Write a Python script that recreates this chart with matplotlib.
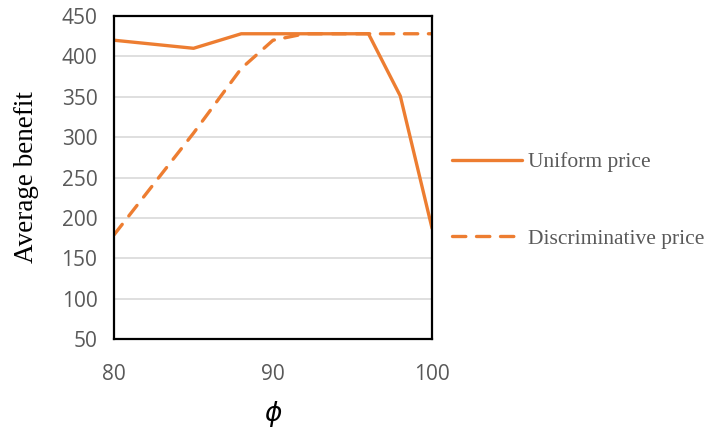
import matplotlib
matplotlib.use("Agg")
import matplotlib.pyplot as plt

phi = [80, 85, 88, 90, 92, 96, 98, 100]
uniform = [420, 410, 428, 428, 428, 428, 351, 187]
discriminative = [179, 305, 385, 420, 428, 428, 428, 428]
series_names = ["Uniform price", "Discriminative price"]
x_ticks = [80, 90, 100]
y_ticks = [50, 100, 150, 200, 250, 300, 350, 400, 450]

orange = "#ED7D31"
gray = "#595959"

fig = plt.figure(figsize=(7.06, 4.30), dpi=100)
ax = fig.add_axes([0.1615, 0.2116, 0.4505, 0.7512])

ax.plot(phi, uniform, color=orange, lw=2.4, solid_joinstyle="round",
        solid_capstyle="round", label=series_names[0])
ax.plot(phi, discriminative, color=orange, lw=2.4, linestyle=(0, (4.0, 3.2)),
        dash_capstyle="round", label=series_names[1])

ax.set_xlim(80, 100)
ax.set_ylim(50, 450)
ax.set_xticks(x_ticks)
ax.set_yticks(y_ticks)
ax.yaxis.grid(True, color="#d9d9d9", lw=1.2)
ax.set_axisbelow(True)
ax.tick_params(length=0, labelsize=15, colors=gray, pad=12)
ax.tick_params(axis="x", pad=18)
for lab in ax.get_xticklabels() + ax.get_yticklabels():
    lab.set_family("Open Sans")
for s in ax.spines.values():
    s.set_color("black")
    s.set_linewidth(1.6)

ax.set_ylabel("Average benefit", family="Liberation Serif", fontsize=19.5,
              color="black", labelpad=16)
ax.set_xlabel(r"$\phi$", fontsize=19, labelpad=10)

leg = ax.legend(loc="center left", bbox_to_anchor=(0.640, 0.534),
                bbox_transform=fig.transFigure, frameon=False,
                handlelength=3.25, handletextpad=0.28, labelspacing=2.62,
                borderpad=0, borderaxespad=0,
                prop={"family": "Liberation Serif", "size": 15.5})
for t in leg.get_texts():
    t.set_color(gray)

fig.savefig("out.png", dpi=100)
